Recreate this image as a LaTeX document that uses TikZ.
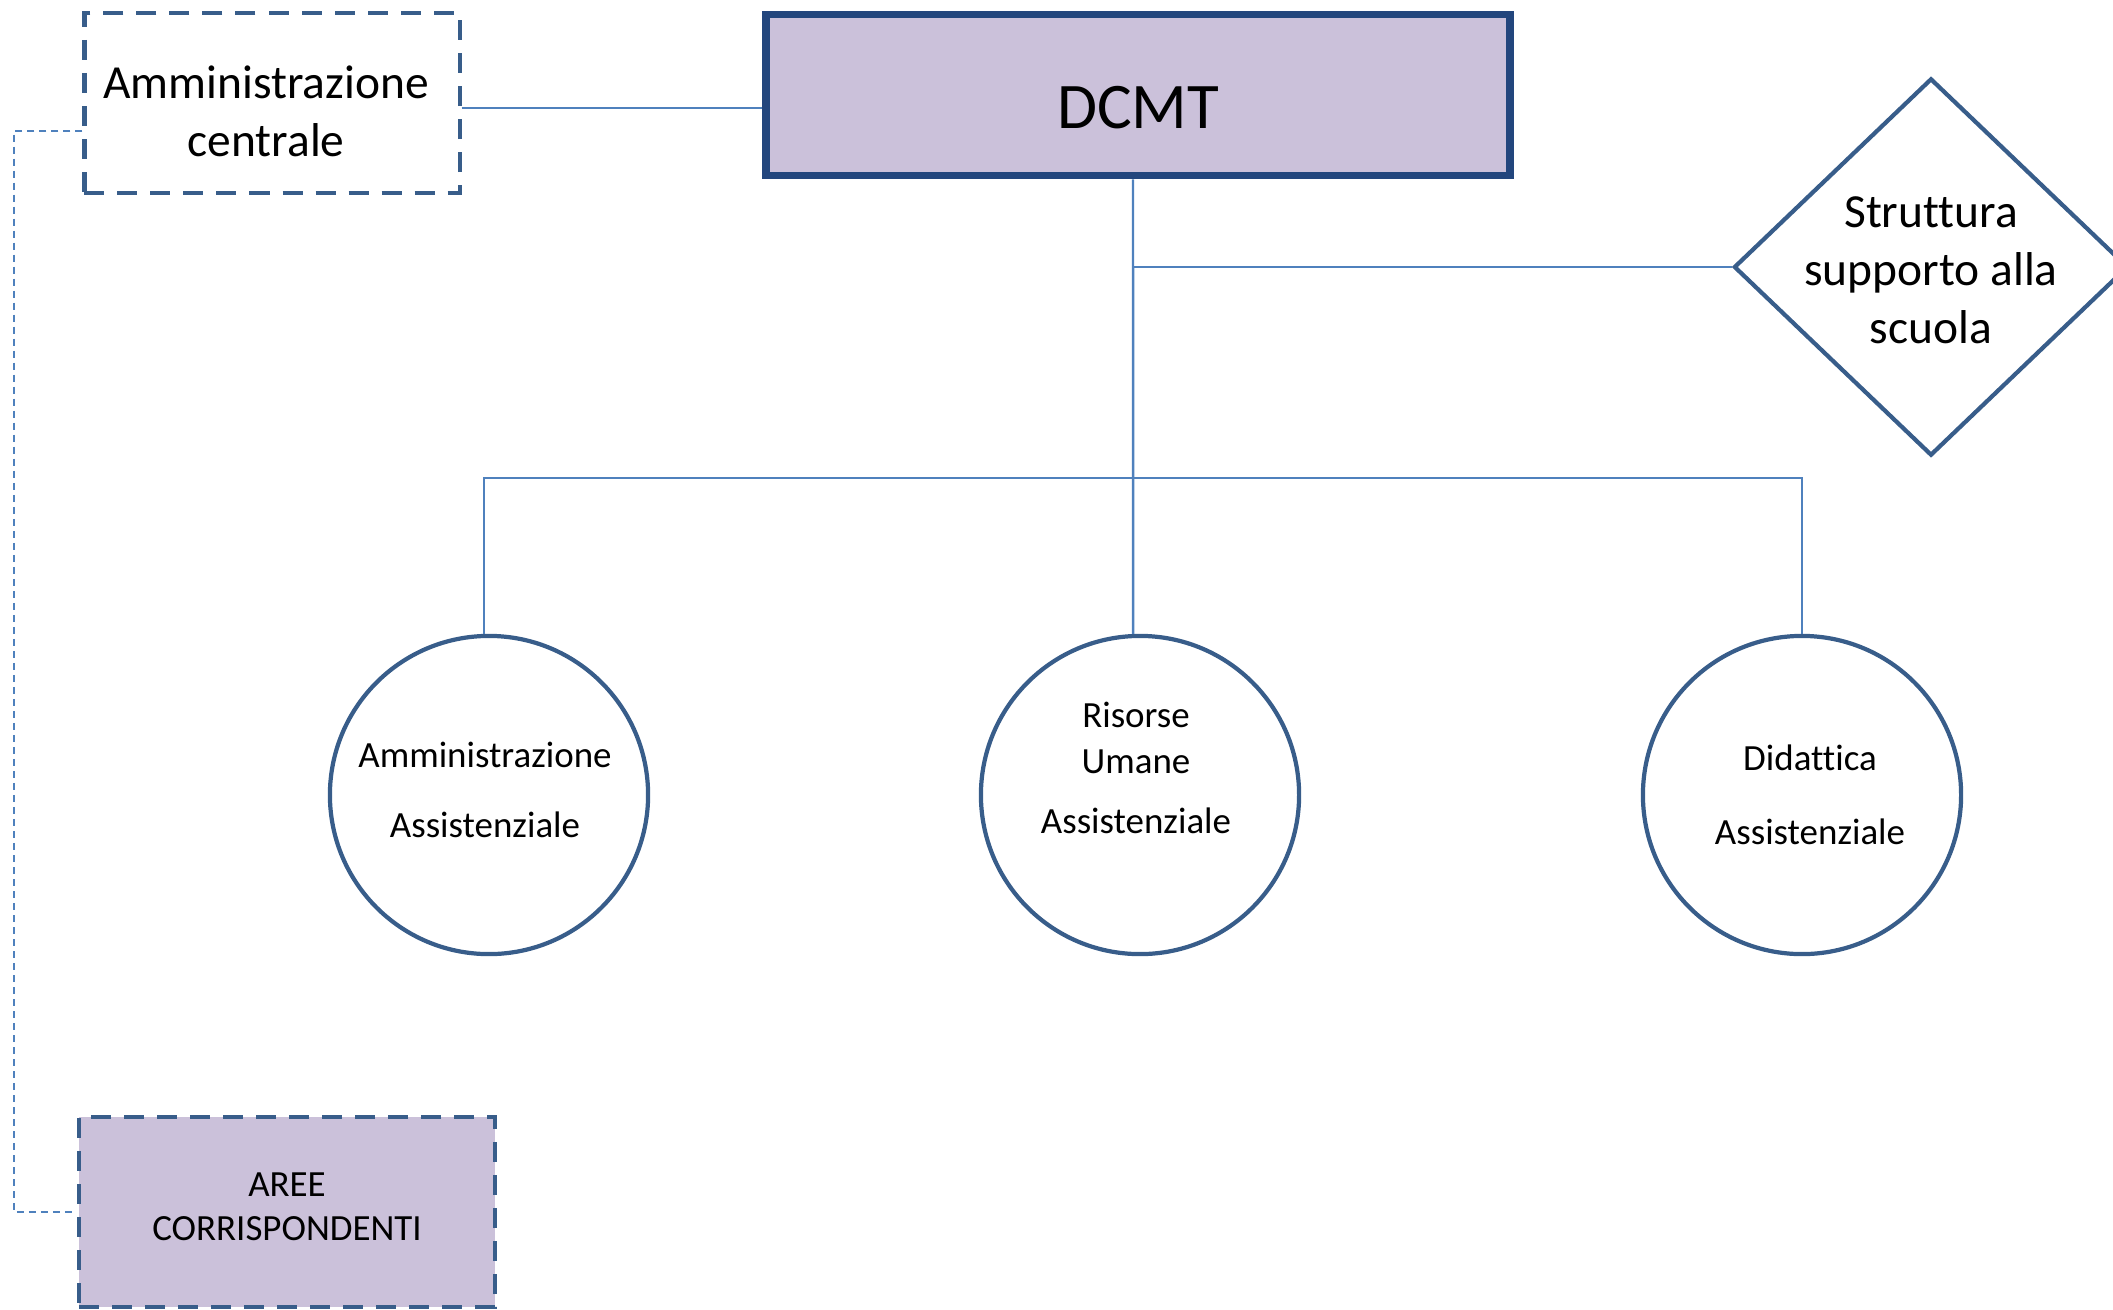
\documentclass[tikz,border=0pt]{standalone}
\usepackage{fontspec}
\setmainfont{Carlito}[Ligatures=NoCommon]
\usetikzlibrary{shapes.geometric}
\definecolor{lilla}{RGB}{203,193,218}
\definecolor{bordo}{RGB}{56,93,138}
\definecolor{bordoscuro}{RGB}{35,70,125}
\definecolor{linea}{RGB}{79,129,189}

\begin{document}
\begin{tikzpicture}[x=0.01cm,y=-0.01cm,
    every node/.style={black,align=center},
    tratteggio/.style={draw=bordo,line width=1.2pt,dash pattern=on 0.2cm off 0.13cm},
    ufficio/.style={circle,draw=bordo,line width=1.2pt,minimum size=3.18cm,inner sep=0pt},
    piccolo/.style={font=\fontsize{10.5}{12.6}\selectfont},
    grande/.style={font=\fontsize{13.5}{16.5}\selectfont},
    link/.style={linea,line width=0.7pt},
    punteggiato/.style={linea,line width=0.6pt,dash pattern=on 0.07cm off 0.05cm}]
    \useasboundingbox (0,0) rectangle (2113,1309);

    \node[draw=bordoscuro,fill=lilla,line width=2.2pt,minimum width=7.44cm,minimum height=1.61cm] (dcmt) at (1138,95) {};
    \node[font=\fontsize{18.5}{22}\selectfont] at ([yshift=-0.13cm]dcmt.center) {DCMT};
    \node[tratteggio,minimum width=3.75cm,minimum height=1.8cm] (ammc) at (272,103) {};
    \node[grande] at ([xshift=-0.06cm,yshift=-0.08cm]ammc.center) {Amministrazione\\centrale};
    \node[diamond,draw=bordo,line width=1.2pt,minimum width=3.94cm,minimum height=3.77cm,inner sep=0pt] (sss) at (1931,267) {};
    \node[grande] at ([yshift=-0.03cm]sss.center) {Struttura\\supporto alla\\scuola};

    \node[ufficio] (ca) at (489,795) {};
    \node[ufficio] (cr) at (1140,795) {};
    \node[ufficio] (cd) at (1802,795) {};
    \node[piccolo] at ([xshift=-0.04cm,yshift=0.05cm]ca.center) {Amministrazione\\[7.4pt]Assistenziale};
    \node[piccolo] at ([xshift=-0.04cm,yshift=0.27cm]cr.center) {Risorse\\[0.4pt]Umane\\[4.4pt]Assistenziale};
    \node[piccolo] at ([xshift=0.08cm]cd.center) {Didattica\\[8.4pt]Assistenziale};

    \node[tratteggio,fill=lilla,minimum width=4.16cm,minimum height=1.9cm] (aree) at (287,1212) {};
    \node[piccolo] at ([yshift=0.05cm]aree.center) {AREE\\CORRISPONDENTI};

    \coordinate (bus) at (1133,478);
    \draw[link] ([yshift=-0.05cm]ammc.east) -- ([yshift=-0.05cm]ammc.east -| dcmt.west);
    \draw[link] ([xshift=-0.05cm]dcmt.south) -- (bus |- cr.north);
    \draw[link] (sss.west) -- (sss.west -| bus);
    \draw[link] ([xshift=-0.05cm]ca.north) |- (bus) -| (cd.north);
    \draw[punteggiato] ([yshift=-0.28cm]ammc.west) -| ([xshift=-0.63cm]aree.west) -- (aree.west);
\end{tikzpicture}
\end{document}
